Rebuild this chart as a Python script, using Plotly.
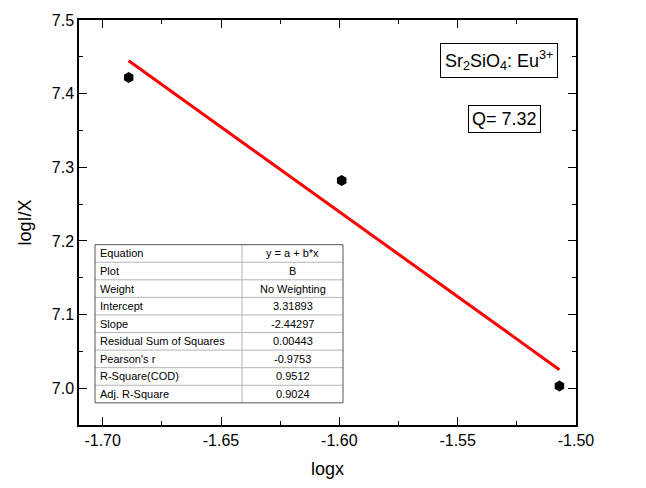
import numpy as np
import plotly.graph_objects as go

# Measured data
log_x = [-1.689, -1.599, -1.507]
log_ix = [7.422, 7.282, 7.003]

# Linear fit report (y = a + b*x)
fit_labels = ["Equation", "Plot", "Weight", "Intercept", "Slope",
              "Residual Sum of Squares", "Pearson's r", "R-Square(COD)",
              "Adj. R-Square"]
fit_values = ["y = a + b*x", "B", "No Weighting", "3.31893", "-2.44297",
              "0.00443", "-0.9753", "0.9512", "0.9024"]

x_ticks = [-1.70, -1.65, -1.60, -1.55, -1.50]
y_ticks = [7.0, 7.1, 7.2, 7.3, 7.4, 7.5]

W, H = 646, 488
ML, MR, MT, MB = 79, 70, 15, 53
PW, PH = W - ML - MR, H - MT - MB
FONT = "Liberation Sans, Arial, sans-serif"


def px(xp):
    return (xp - ML) / PW


def py(yp):
    return (H - MB - yp) / PH


# least-squares line through the plotted points
b, a = np.polyfit(log_x, log_ix, 1)
fit_x = [min(log_x), max(log_x)]
fit_y = [a + b * v for v in fit_x]

fig = go.Figure()
fig.add_trace(go.Scatter(x=fit_x, y=fit_y, mode="lines",
                         line=dict(color="#ff0000", width=3),
                         showlegend=False))
fig.add_trace(go.Scatter(x=log_x, y=log_ix, mode="markers",
                         marker=dict(symbol="hexagon", size=11, color="black"),
                         showlegend=False))

axis_common = dict(
    showline=True, linecolor="black", linewidth=1.5, mirror="allticks",
    ticks="inside", ticklen=8, tickwidth=1.2, tickcolor="black",
    showgrid=False, zeroline=False,
    tickfont=dict(family=FONT, size=16, color="black"),
)

fig.update_xaxes(range=[-1.71, -1.50], tickvals=x_ticks,
                 ticktext=[f"{v:.2f}" for v in x_ticks],
                 minor=dict(ticks="inside", ticklen=4, dtick=0.025,
                            tick0=-1.70, tickcolor="black", tickwidth=1.2),
                 title=dict(text="logx", font=dict(family=FONT, size=18, color="black"),
                            standoff=14),
                 **axis_common)
fig.update_yaxes(range=[6.95, 7.5], tickvals=y_ticks,
                 ticktext=[f"{v:.1f}" for v in y_ticks],
                 minor=dict(ticks="inside", ticklen=4, dtick=0.05,
                            tick0=7.0, tickcolor="black", tickwidth=1.2),
                 title=dict(text="logI/X", font=dict(family=FONT, size=18, color="black"),
                            standoff=15),
                 **axis_common)

shapes = []
annotations = []

# Fit summary table
t_left, t_right, t_top, t_bottom, t_div = 95, 343, 248, 412, 242
row_h = (t_bottom - t_top) / len(fit_labels)
for i in range(1, len(fit_labels)):
    yy = t_top + i * row_h
    shapes.append(dict(type="line", xref="paper", yref="paper",
                       x0=px(t_left), x1=px(t_right), y0=py(yy), y1=py(yy),
                       line=dict(color="#b4b4b4", width=1)))
shapes.append(dict(type="line", xref="paper", yref="paper",
                   x0=px(t_div), x1=px(t_div), y0=py(t_top), y1=py(t_bottom),
                   line=dict(color="#b4b4b4", width=1)))
shapes.append(dict(type="rect", xref="paper", yref="paper",
                   x0=px(t_left), x1=px(t_right), y0=py(t_bottom), y1=py(t_top),
                   line=dict(color="#555555", width=1), fillcolor="rgba(0,0,0,0)"))

for i, (lab, val) in enumerate(zip(fit_labels, fit_values)):
    yc = t_top + (i + 0.5) * row_h
    annotations.append(dict(text=lab, xref="paper", yref="paper",
                            x=px(t_left + 3), y=py(yc), xanchor="left", yanchor="middle",
                            showarrow=False,
                            font=dict(family=FONT, size=11, color="black")))
    annotations.append(dict(text=val, xref="paper", yref="paper",
                            x=px((t_div + t_right) / 2), y=py(yc),
                            xanchor="center", yanchor="middle", showarrow=False,
                            font=dict(family=FONT, size=11, color="black")))

# Sample and quenching labels
annotations.append(dict(text="Sr<sub>2</sub>SiO<sub>4</sub>: Eu<sup>3+</sup>",
                        xref="paper", yref="paper", x=px(498.5), y=py(57),
                        xanchor="center", yanchor="middle", showarrow=False,
                        bordercolor="black", borderwidth=1, borderpad=4,
                        font=dict(family=FONT, size=18, color="black")))
annotations.append(dict(text="Q= 7.32", xref="paper", yref="paper",
                        x=px(504), y=py(118), xanchor="center", yanchor="middle",
                        showarrow=False, bordercolor="black", borderwidth=1,
                        borderpad=3, font=dict(family=FONT, size=18, color="black")))

fig.update_layout(width=W, height=H, margin=dict(l=ML, r=MR, t=MT, b=MB),
                  paper_bgcolor="white", plot_bgcolor="white",
                  shapes=shapes, annotations=annotations)

fig.write_html("out.html")
